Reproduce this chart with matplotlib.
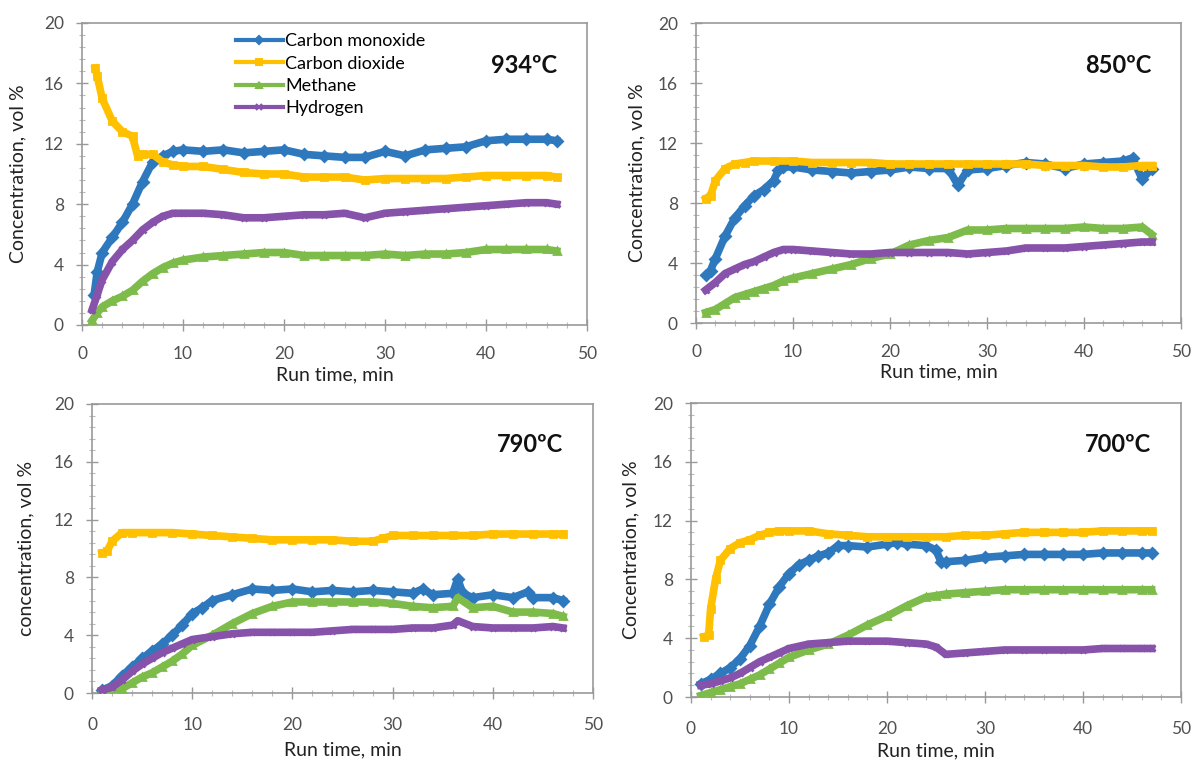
import numpy as np
import matplotlib.pyplot as plt
from matplotlib.ticker import MultipleLocator
from matplotlib.lines import Line2D

plt.rcParams['font.family'] = ['Lato', 'DejaVu Sans']

# === Data ===
# 934 C
t_934_co = [1.2, 1.5, 2, 3, 4, 5, 6, 7, 8, 9, 10, 12, 14, 16, 18, 20, 22, 24, 26, 28, 30, 32, 34, 36, 38, 40, 42, 44, 46, 47]
co_934 = [2.0, 3.5, 4.8, 5.8, 6.8, 8.0, 9.5, 10.8, 11.2, 11.5, 11.6, 11.5, 11.6, 11.4, 11.5, 11.6, 11.3, 11.2, 11.1, 11.1, 11.5, 11.2, 11.6, 11.7, 11.8, 12.2, 12.3, 12.3, 12.3, 12.2]
t_934_co2 = [1.3, 1.5, 2, 3, 4, 5, 5.5, 6, 7, 8, 9, 10, 12, 14, 16, 18, 20, 22, 24, 26, 28, 30, 32, 34, 36, 38, 40, 42, 44, 46, 47]
co2_934 = [17.0, 16.5, 15.0, 13.5, 12.8, 12.5, 11.2, 11.3, 11.3, 10.8, 10.6, 10.5, 10.5, 10.3, 10.1, 10.0, 10.0, 9.8, 9.8, 9.8, 9.6, 9.7, 9.7, 9.7, 9.7, 9.8, 9.9, 9.9, 9.9, 9.9, 9.8]
t_934 = [1, 1.5, 2, 3, 4, 5, 6, 7, 8, 9, 10, 12, 14, 16, 18, 20, 22, 24, 26, 28, 30, 32, 34, 36, 38, 40, 42, 44, 46, 47]
ch4_934 = [0.3, 0.8, 1.2, 1.6, 1.9, 2.3, 2.9, 3.4, 3.8, 4.1, 4.3, 4.5, 4.6, 4.7, 4.8, 4.8, 4.6, 4.6, 4.6, 4.6, 4.7, 4.6, 4.7, 4.7, 4.8, 5.0, 5.0, 5.0, 5.0, 4.9]
h2_934 = [1.0, 2.0, 3.0, 4.2, 5.0, 5.6, 6.3, 6.8, 7.2, 7.4, 7.4, 7.4, 7.3, 7.1, 7.1, 7.2, 7.3, 7.3, 7.4, 7.1, 7.4, 7.5, 7.6, 7.7, 7.8, 7.9, 8.0, 8.1, 8.1, 8.0]

# 850 C
t_850_co = [1, 1.5, 2, 3, 4, 5, 6, 7, 8, 8.5, 9, 10, 12, 14, 16, 18, 20, 22, 24, 26, 27, 28, 30, 32, 34, 36, 38, 40, 42, 44, 45, 46, 47]
co_850 = [3.2, 3.5, 4.3, 5.8, 7.0, 7.8, 8.5, 8.9, 9.5, 10.2, 10.4, 10.4, 10.2, 10.1, 10.0, 10.1, 10.2, 10.4, 10.3, 10.3, 9.2, 10.2, 10.3, 10.5, 10.7, 10.6, 10.3, 10.6, 10.7, 10.8, 11.0, 9.6, 10.3]
t_850_co2 = [1, 1.5, 2, 3, 4, 5, 6, 8, 10, 12, 14, 16, 18, 20, 22, 24, 26, 28, 30, 32, 34, 36, 38, 40, 42, 44, 46, 47]
co2_850 = [8.3, 8.5, 9.5, 10.3, 10.6, 10.7, 10.8, 10.8, 10.8, 10.7, 10.7, 10.7, 10.7, 10.6, 10.6, 10.6, 10.6, 10.6, 10.6, 10.6, 10.6, 10.5, 10.5, 10.5, 10.4, 10.4, 10.5, 10.5]
t_850 = [1, 2, 3, 4, 5, 6, 7, 8, 9, 10, 12, 14, 16, 18, 20, 22, 24, 26, 28, 30, 32, 34, 36, 38, 40, 42, 44, 46, 47]
ch4_850 = [0.7, 0.9, 1.3, 1.7, 1.9, 2.1, 2.3, 2.5, 2.8, 3.0, 3.3, 3.6, 3.9, 4.3, 4.6, 5.2, 5.5, 5.7, 6.2, 6.2, 6.3, 6.3, 6.3, 6.3, 6.4, 6.3, 6.3, 6.4, 5.9]
h2_850 = [2.2, 2.7, 3.3, 3.6, 3.9, 4.1, 4.4, 4.7, 4.9, 4.9, 4.8, 4.7, 4.6, 4.6, 4.7, 4.7, 4.7, 4.7, 4.6, 4.7, 4.8, 5.0, 5.0, 5.0, 5.1, 5.2, 5.3, 5.4, 5.4]

# 790 C
t_790_co = [1, 2, 3, 4, 5, 6, 7, 8, 9, 10, 11, 12, 14, 16, 18, 20, 22, 24, 26, 28, 30, 32, 33, 34, 36, 36.5, 37, 38, 40, 42, 43.5, 44, 46, 47]
co_790 = [0.2, 0.5, 1.2, 1.8, 2.4, 2.9, 3.4, 4.0, 4.7, 5.5, 5.9, 6.4, 6.8, 7.2, 7.1, 7.2, 7.0, 7.1, 7.0, 7.1, 7.0, 6.9, 7.2, 6.8, 6.9, 7.9, 6.9, 6.6, 6.8, 6.6, 7.0, 6.6, 6.6, 6.4]
t_790_co2 = [1, 1.5, 2, 3, 4, 6, 8, 10, 12, 14, 16, 18, 20, 22, 24, 26, 28, 29, 30, 32, 34, 36, 38, 40, 42, 44, 46, 47]
co2_790 = [9.7, 9.8, 10.5, 11.1, 11.1, 11.1, 11.1, 11.0, 10.9, 10.8, 10.7, 10.6, 10.6, 10.6, 10.6, 10.5, 10.5, 10.7, 10.9, 10.9, 10.9, 10.9, 10.9, 11.0, 11.0, 11.0, 11.0, 11.0]
t_790 = [1, 2, 3, 4, 5, 6, 7, 8, 9, 10, 12, 14, 16, 18, 20, 22, 24, 26, 28, 30, 32, 34, 36, 36.5, 38, 40, 42, 44, 46, 47]
ch4_790 = [0.0, 0.0, 0.3, 0.7, 1.1, 1.4, 1.8, 2.2, 2.7, 3.3, 4.0, 4.8, 5.5, 6.0, 6.3, 6.3, 6.3, 6.3, 6.3, 6.2, 6.0, 5.9, 6.0, 6.6, 5.9, 6.0, 5.6, 5.6, 5.5, 5.3]
h2_790 = [0.2, 0.4, 0.9, 1.5, 2.0, 2.4, 2.8, 3.1, 3.4, 3.7, 3.9, 4.1, 4.2, 4.2, 4.2, 4.2, 4.3, 4.4, 4.4, 4.4, 4.5, 4.5, 4.7, 5.0, 4.6, 4.5, 4.5, 4.5, 4.6, 4.5]

# 700 C
t_700_co = [1, 2, 3, 4, 5, 6, 7, 8, 9, 10, 11, 12, 13, 14, 15, 16, 18, 20, 21, 22, 24, 25, 25.5, 26, 28, 30, 32, 34, 36, 38, 40, 42, 44, 46, 47]
co_700 = [0.9, 1.2, 1.6, 2.0, 2.6, 3.5, 4.8, 6.3, 7.5, 8.4, 9.0, 9.3, 9.6, 9.8, 10.3, 10.3, 10.2, 10.4, 10.5, 10.4, 10.3, 10.0, 9.2, 9.2, 9.3, 9.5, 9.6, 9.7, 9.7, 9.7, 9.7, 9.8, 9.8, 9.8, 9.8]
t_700_co2 = [1.3, 1.8, 2, 2.5, 3, 4, 5, 6, 7, 8, 9, 10, 12, 14, 16, 18, 20, 22, 24, 26, 28, 30, 32, 34, 36, 38, 40, 42, 44, 46, 47]
co2_700 = [4.1, 4.2, 6.0, 8.0, 9.3, 10.1, 10.5, 10.7, 11.0, 11.2, 11.3, 11.3, 11.3, 11.1, 11.0, 10.9, 10.9, 10.9, 10.9, 10.9, 11.0, 11.0, 11.1, 11.2, 11.2, 11.2, 11.2, 11.3, 11.3, 11.3, 11.3]
t_700 = [1, 2, 3, 4, 5, 6, 7, 8, 9, 10, 12, 14, 16, 18, 20, 22, 24, 25, 26, 28, 30, 32, 34, 36, 38, 40, 42, 44, 46, 47]
ch4_700 = [0.1, 0.3, 0.5, 0.7, 0.9, 1.2, 1.5, 1.9, 2.3, 2.7, 3.2, 3.6, 4.2, 4.9, 5.5, 6.2, 6.8, 6.9, 7.0, 7.1, 7.2, 7.3, 7.3, 7.3, 7.3, 7.3, 7.3, 7.3, 7.3, 7.3]
h2_700 = [0.8, 0.9, 1.1, 1.3, 1.6, 2.0, 2.4, 2.7, 3.0, 3.3, 3.6, 3.7, 3.8, 3.8, 3.8, 3.7, 3.6, 3.4, 2.9, 3.0, 3.1, 3.2, 3.2, 3.2, 3.2, 3.2, 3.3, 3.3, 3.3, 3.3]

temps = ['934ºC', '850ºC', '790ºC', '700ºC']
ylabels = ['Concentration, vol %', 'Concentration, vol %', 'concentration, vol %', 'Concentration, vol %']
gases = ['Carbon monoxide', 'Carbon dioxide', 'Methane', 'Hydrogen']

panels = [
    [(t_934_co, co_934), (t_934_co2, co2_934), (t_934, ch4_934), (t_934, h2_934)],
    [(t_850_co, co_850), (t_850_co2, co2_850), (t_850, ch4_850), (t_850, h2_850)],
    [(t_790_co, co_790), (t_790_co2, co2_790), (t_790, ch4_790), (t_790, h2_790)],
    [(t_700_co, co_700), (t_700_co2, co2_700), (t_700, ch4_700), (t_700, h2_700)],
]

colors = ['#2E78BE', '#FFC000', '#7DBB4A', '#8652AA']
markers = ['D', 's', '^', 'x']

# axes rectangles, from pixel edges of the reference (left, right, top, bottom)
W, H = 1198.0, 761.0
px_boxes = [(82, 587, 23, 325), (696, 1181, 23, 323), (92, 593, 404, 693), (691, 1181, 403, 697)]
rects = [[l / W, 1 - b / H, (r - l) / W, (b - t) / H] for l, r, t, b in px_boxes]
xlabel_y = [-0.136, -0.136, -0.168, -0.155]
ylabel_x = [-0.11, -0.104, -0.115, -0.105]

fig = plt.figure(figsize=(11.98, 7.61), dpi=100)

for i, rect in enumerate(rects):
    ax = fig.add_axes(rect)
    for j, (t, v) in enumerate(panels[i]):
        ax.plot(t, v, color=colors[j], lw=5.5, marker=markers[j], ms=5,
                mew=2, label=gases[j], zorder=3, solid_joinstyle='round')
    ax.set_xlim(0, 50)
    ax.set_ylim(0, 20)
    ax.xaxis.set_major_locator(MultipleLocator(10))
    ax.xaxis.set_minor_locator(MultipleLocator(2))
    ax.yaxis.set_major_locator(MultipleLocator(4))
    ax.yaxis.set_minor_locator(MultipleLocator(0.8))
    ax.tick_params(which='major', direction='inout', length=8, width=1,
                   color='#999999', labelsize=12.5, labelcolor='#505050')
    ax.tick_params(axis='y', which='major', pad=9)
    ax.tick_params(axis='x', which='major', pad=11 if i < 2 else 13)
    ax.tick_params(which='minor', direction='inout', length=4, width=0.8,
                   color='#bbbbbb')
    for side in ['top', 'right', 'left', 'bottom']:
        ax.spines[side].set_color('#999999')
        ax.spines[side].set_linewidth(1.2)
    ax.set_xlabel('Run time, min', fontsize=14, color='#222222')
    ax.set_ylabel(ylabels[i], fontsize=14, color='#222222')
    ax.xaxis.set_label_coords(0.5, xlabel_y[i])
    ax.yaxis.set_label_coords(ylabel_x[i], 0.5)
    ax.text(0.94, 0.86, temps[i], transform=ax.transAxes, ha='right', va='center',
            fontsize=17, fontweight='bold', color='#111111')
    if i == 0:
        handles = [Line2D([], [], color=colors[j], lw=3, marker=markers[j], ms=4, mew=1.5)
                   for j in range(4)]
        ax.legend(handles, gases, loc='upper left', bbox_to_anchor=(0.29, 0.99),
                  frameon=False, fontsize=13, handlelength=2.6, handletextpad=0.15,
                  labelspacing=0.35, borderaxespad=0)

fig.savefig('out.png', dpi=100)
